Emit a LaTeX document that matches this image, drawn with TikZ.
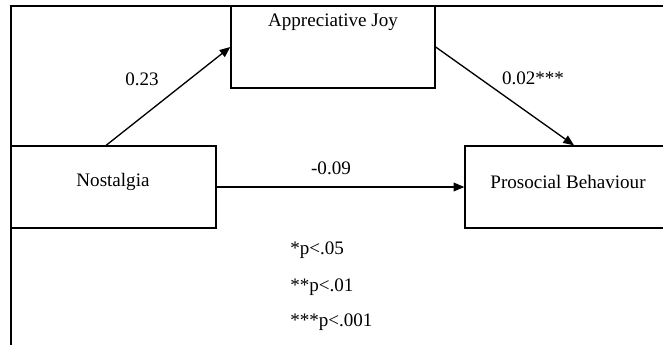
\documentclass[tikz,border=0pt]{standalone}
\usepackage{fontspec}
\setmainfont{Liberation Serif}
\usetikzlibrary{arrows.meta, positioning}

\begin{document}
\begin{tikzpicture}[x=0.75pt, y=-0.75pt,
    every node/.style={font=\fontsize{14.3}{17}\selectfont},
    varbox/.style={draw, line width=1pt, minimum height=61.5pt},
    path/.style={line width=1pt, -{Triangle[length=8pt, width=6.5pt]}},
    coef/.style={inner sep=1pt}]
    \useasboundingbox (0,0) rectangle (663,345);

    % outer frame (cut off at the right and bottom)
    \draw[line width=1.5pt] (11,345) -- (11,6) -- (663,6);

    % the three variables
    \node[varbox, minimum width=153pt] (joy) at (333,47) {};
    \node[varbox, minimum width=153.75pt] (nost) at (113.5,187) {};
    \node[varbox, minimum width=163.5pt] (pro) at (574,187) {};

    \node (joytext) at (333,22) {Appreciative Joy};
    \node (nosttext) at (113,182) {Nostalgia};
    \node (protext) at (568,182) {Prosocial Behaviour};

    % paths with coefficients
    \draw[path] (nost.100) -- (joy.west);
    \draw[path] (joy.east) -- (pro.north);
    \draw[path] (nost.east) -- (pro.west);

    \node[coef] (a) at (142,79) {0.23};
    \node[coef] (b) at (533,78) {0.02***};
    \node[coef] (c) at (331,168) {-0.09};

    % significance levels
    \node[anchor=west, inner sep=0pt] (sig1) at (290,250) {*p<.05};
    \node[anchor=west, inner sep=0pt] (sig2) at (290,287) {**p<.01};
    \node[anchor=west, inner sep=0pt] (sig3) at (290,322) {***p<.001};
\end{tikzpicture}
\end{document}
